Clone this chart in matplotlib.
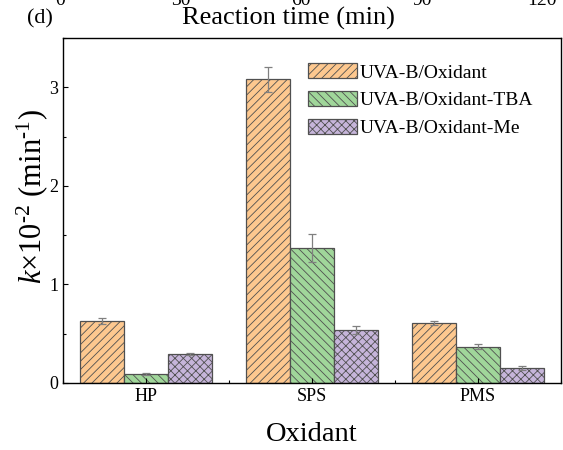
import numpy as np
import matplotlib
matplotlib.use("Agg")
from matplotlib import pyplot as plt
from matplotlib.ticker import MultipleLocator

plt.rcParams["font.family"] = ["Liberation Serif", "DejaVu Serif"]
plt.rcParams["mathtext.fontset"] = "custom"
plt.rcParams["mathtext.rm"] = "Liberation Serif"
plt.rcParams["mathtext.it"] = "Liberation Serif:italic"
plt.rcParams["hatch.linewidth"] = 0.6

# data
oxidants = ["HP", "SPS", "PMS"]
series = ["UVA-B/Oxidant", "UVA-B/Oxidant-TBA", "UVA-B/Oxidant-Me"]
k_oxidant = [0.63, 3.08, 0.61]
k_oxidant_err = [0.03, 0.13, 0.02]
k_tba = [0.09, 1.37, 0.37]
k_tba_err = [0.01, 0.14, 0.03]
k_me = [0.29, 0.54, 0.15]
k_me_err = [0.01, 0.04, 0.02]
top_ticks = ["0", "30", "60", "90", "120"]

colors = ["#FDC88F", "#A0D69A", "#C6B5DA"]
hatches = ["////", "\\\\\\\\", "xxxx"]

fig = plt.figure(figsize=(5.63, 4.5), dpi=100)
ax = fig.add_axes([0.1119, 0.1489, 0.8845, 0.7667])

x = np.arange(len(oxidants))
w = 0.265
vals = [k_oxidant, k_tba, k_me]
errs = [k_oxidant_err, k_tba_err, k_me_err]
for i in range(3):
    ax.bar(x + (i - 1) * w, vals[i], w, color=colors[i], edgecolor="#505050",
           linewidth=0.9, hatch=hatches[i], label=series[i],
           yerr=errs[i], ecolor="#808080",
           error_kw=dict(capsize=3, elinewidth=0.9, capthick=0.9))

ax.set_xlim(-0.5, 2.5)
ax.set_ylim(0, 3.5)
ax.set_xticks(x)
ax.set_xticklabels(oxidants, fontsize=13)
ax.xaxis.set_minor_locator(MultipleLocator(0.5))
ax.yaxis.set_major_locator(MultipleLocator(1))
ax.yaxis.set_minor_locator(MultipleLocator(0.5))
ax.tick_params(axis="both", which="major", direction="in", length=3.5, width=0.8, labelsize=13)
ax.tick_params(axis="both", which="minor", direction="in", length=2, width=0.8)
for s in ax.spines.values():
    s.set_linewidth(1.0)

ax.set_xlabel("Oxidant", fontsize=20.5, labelpad=12)
ax.set_ylabel(r"$k$×10$^{\text{-2}}$ (min$^{\text{-1}}$)", fontsize=22)
ax.yaxis.set_label_coords(-0.026, 0.54)

ax.legend(loc="upper right", bbox_to_anchor=(0.972, 0.966), frameon=False, fontsize=14,
          handlelength=2.5, handleheight=0.8, handletextpad=0.15, labelspacing=0.5,
          borderaxespad=0.3)

# leftovers from the panel above
fig.text(0.071, 0.957, "(d)", fontsize=16, ha="center", va="center")
fig.text(0.513, 0.958, "Reaction time (min)", fontsize=19, ha="center", va="center")
for lbl, px in zip(top_ticks, [60, 181, 301, 422, 542]):
    fig.text(px / 563, 0.989, lbl, fontsize=14, ha="center", va="baseline")

fig.savefig("out.png", dpi=100)
